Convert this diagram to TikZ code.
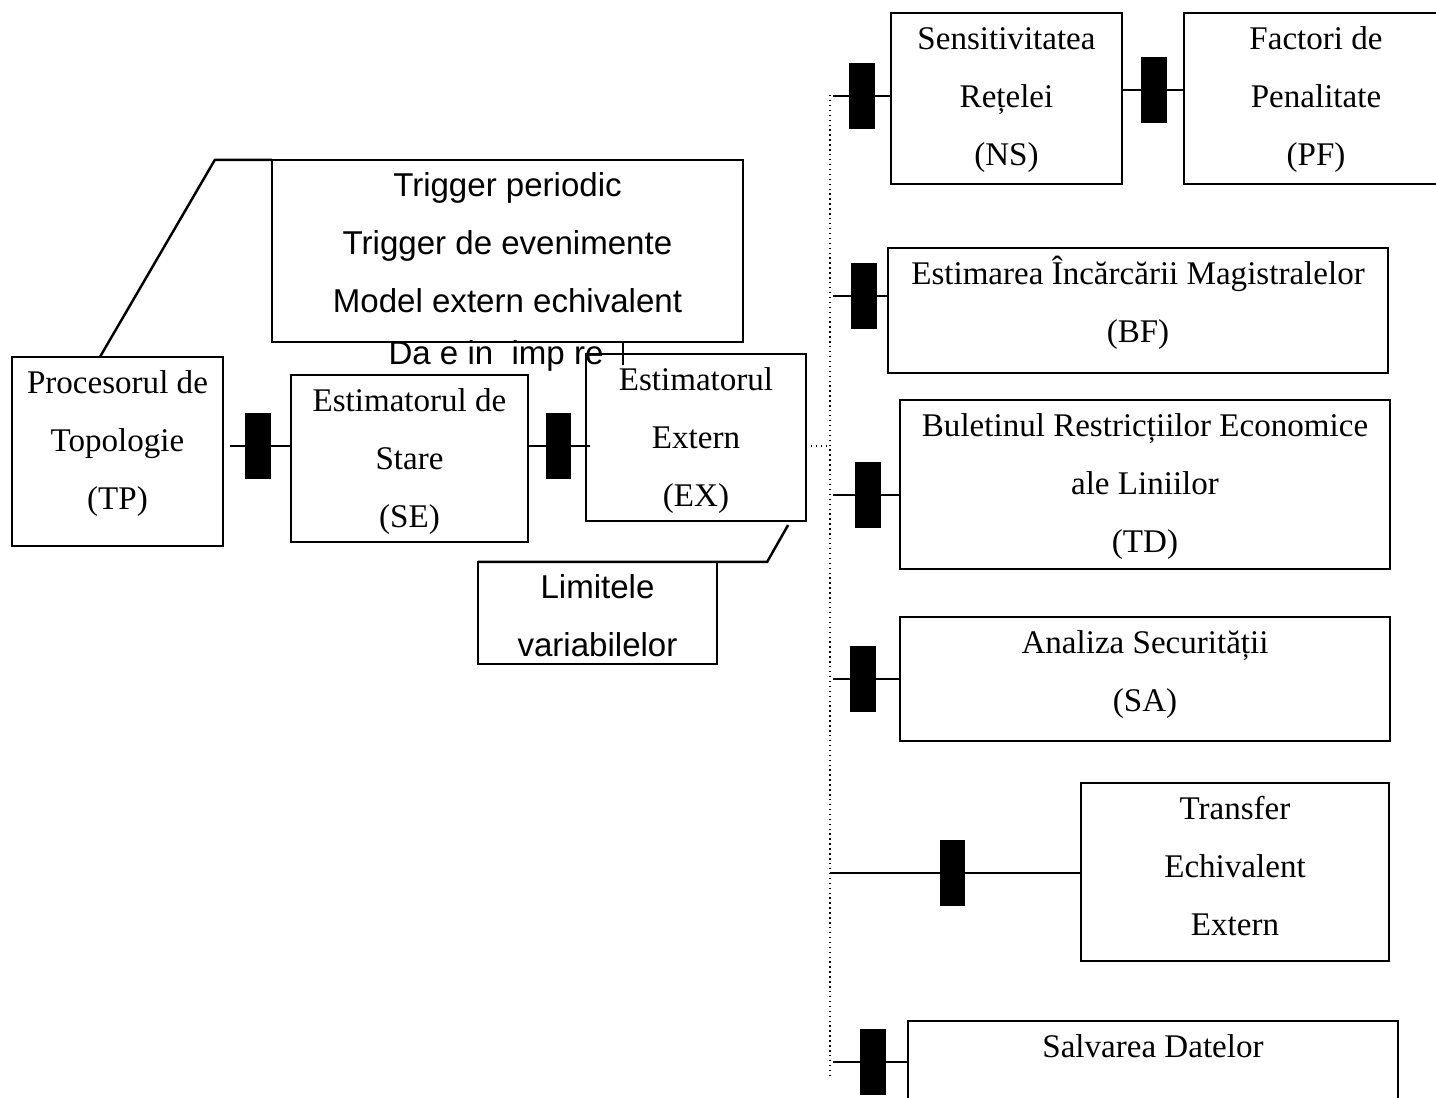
\documentclass[tikz,border=0pt]{standalone}
\usepackage{fontspec}
\setmainfont{Liberation Serif}
\newfontfamily\arialfont{Liberation Sans}
\usetikzlibrary{positioning}

\begin{document}
\begin{tikzpicture}[x=0.01cm, y=-0.01cm, line width=0.7pt,
  every node/.style={font=\fontsize{9.4}{16.5}\selectfont, align=center},
  box/.style={draw, inner sep=0pt, outer sep=0pt},
  three/.style={text height=1.53cm, text depth=#1},
  two/.style={text height=0.947cm, text depth=#1},
  blk/.style={draw, fill=black, minimum width=0.23cm, minimum height=0.63cm, inner sep=0pt},
  sans/.style={font=\arialfont\fontsize{9.4}{16.5}\selectfont}]
\clip (0,0) rectangle (1436,1098);
%
\node[box, minimum width=2.11cm, three=0.361cm] (tp) at (117.5,451.5) {Procesorul de\\Topologie\\(TP)};
\node[box, minimum width=2.37cm, three=0.141cm] (se) at (409.5,458.5) {Estimatorul de\\Stare\\(SE)};
\node[box, minimum width=2.20cm, three=0.141cm] (ex) at (696,437.5) {Estimatorul\\Extern\\(EX)};
\node[box, sans, minimum width=4.71cm, three=0.291cm] (trig) at (507.5,251) {Trigger periodic\\Trigger de evenimente\\Model extern echivalent};
\node[box, sans, minimum width=2.39cm, two=0.073cm] (lim) at (597.5,613) {Limitele\\variabilelor};
\node[sans] (rt) at (496,356) {Da e in\ \ imp re};
%
\node[box, minimum width=2.31cm, three=0.181cm] (ns) at (1006.5,98.5) {Sensitivitatea\\Rețelei\\(NS)};
\node[box, minimum width=2.64cm, three=0.181cm] (pf) at (1316,98.5) {Factori de\\Penalitate\\(PF)};
\node[box, minimum width=5.00cm, two=0.303cm] (bf) at (1138,310.5) {Estimarea Încărcării Magistralelor\\(BF)};
\node[box, minimum width=4.90cm, three=0.161cm] (td) at (1145,484.5) {Buletinul Restricțiilor Economice\\ale Liniilor\\(TD)};
\node[box, minimum width=4.90cm, two=0.293cm] (sa) at (1145,679) {Analiza Securității\\(SA)};
\node[box, minimum width=3.08cm, three=0.251cm] (tr) at (1235,872) {Transfer\\Echivalent\\Extern};
\node[box, anchor=north, minimum width=4.90cm, text height=0.365cm, text depth=0.735cm] (sv) at (1153,1021) {Salvarea Datelor};
%
% callouts
\coordinate[left=0.57cm of trig.north west] (trig bend);
\draw ([xshift=-0.175cm]tp.north) -- (trig bend) -- (trig.north west);
\coordinate[right=0.5cm of lim.north east] (lim bend);
\draw (lim.north west) -- (lim bend) -- ([xshift=-0.18cm, yshift=-0.04cm]ex.south east);
\coordinate (tick) at (623,365);
\draw (trig.south -| tick) -- (tick);
%
% left chain
\node[blk] (k1) at (258,446) {};
\draw ([xshift=0.07cm]tp.east |- k1) -- (se.west |- k1);
\node[blk] (k2) at (558.5,446) {};
\draw (se.east |- k2) -- ([xshift=0.04cm]ex.west |- k2);
%
% bus
\coordinate (bus top) at (830,95);
\coordinate (bus bot) at (830,1075);
\draw[densely dotted, line width=0.4pt] (bus top) -- (bus bot);
\draw[densely dotted, line width=0.4pt] (ex.east |- k2) -- (bus top |- k2);
%
\foreach \b/\y/\k in {ns/96/862, bf/296/864, td/495/868, sa/679/863, sv/1062/873}
{
  \node[blk] (k\b) at (\k,\y) {};
  \draw ([xshift=0.03cm]bus top |- k\b) -- (\b.west |- k\b);
}
\node[blk] (kpf) at (1154,90) {};
\draw (ns.east |- kpf) -- (pf.west |- kpf);
\node[blk] (ktr) at (952.5,873) {};
\draw (bus top |- ktr) -- (tr.west |- ktr);
\end{tikzpicture}
\end{document}
